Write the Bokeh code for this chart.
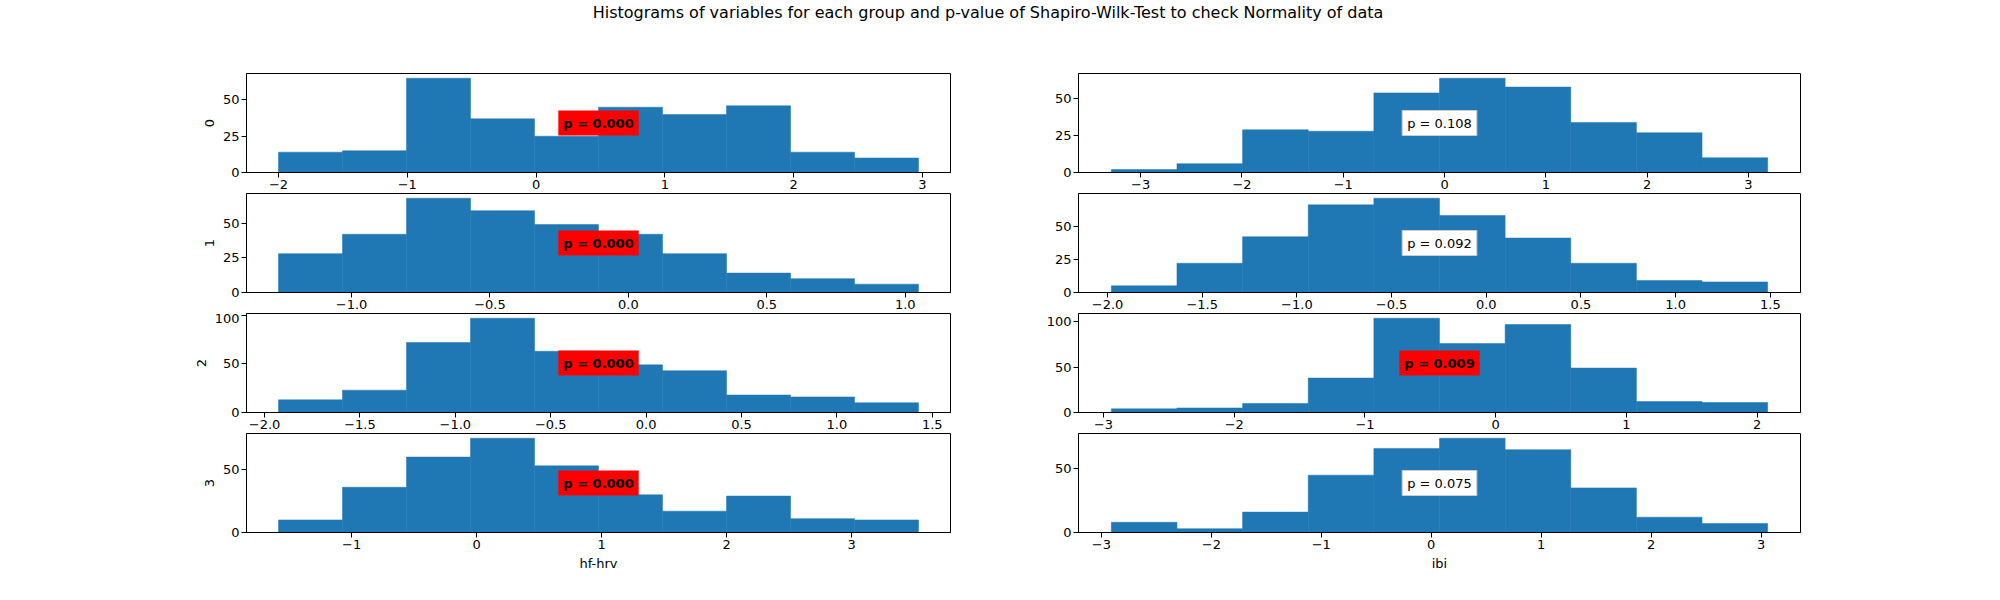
import numpy as np
from bokeh.plotting import figure
from bokeh.models import Div, Label, FixedTicker, Range1d
from bokeh.layouts import column, row
from bokeh.embed import file_html
from bokeh.resources import INLINE

title = "Histograms of variables for each group and p-value of Shapiro-Wilk-Test to check Normality of data"
variables = ["hf-hrv", "ibi"]
groups = ["0", "1", "2", "3"]

# histogram range (min, max) and counts per bin, 10 bins each
hf_range = [(-2.00, 2.97), (-1.264, 1.048), (-1.927, 1.428), (-1.585, 3.535)]
hf_counts = [
    [14, 15, 65, 37, 25, 45, 40, 46, 14, 10],
    [28, 42, 68, 59, 49, 42, 28, 14, 10, 6],
    [13, 23, 72, 97, 63, 49, 43, 18, 16, 10],
    [10, 36, 60, 75, 53, 30, 17, 29, 11, 10],
]
hf_p = [0.000, 0.000, 0.000, 0.000]
ibi_range = [(-3.29, 3.19), (-1.98, 1.486), (-2.94, 2.08), (-2.91, 3.06)]
ibi_counts = [
    [2, 6, 29, 28, 54, 64, 58, 34, 27, 10],
    [5, 22, 42, 66, 71, 58, 41, 22, 9, 8],
    [4, 5, 10, 38, 104, 76, 97, 49, 12, 11],
    [8, 3, 16, 45, 66, 74, 65, 35, 12, 7],
]
ibi_p = [0.108, 0.092, 0.009, 0.075]

hf_xticks = [[-2, -1, 0, 1, 2, 3], [-1.0, -0.5, 0.0, 0.5, 1.0],
             [-2.0, -1.5, -1.0, -0.5, 0.0, 0.5, 1.0, 1.5], [-1, 0, 1, 2, 3]]
ibi_xticks = [[-3, -2, -1, 0, 1, 2, 3], [-2.0, -1.5, -1.0, -0.5, 0.0, 0.5, 1.0, 1.5],
              [-3, -2, -1, 0, 1, 2], [-3, -2, -1, 0, 1, 2, 3]]
hf_yticks = [[0, 25, 50], [0, 25, 50], [0, 50, 100], [0, 50]]
ibi_yticks = [[0, 25, 50], [0, 25, 50], [0, 50, 100], [0, 50]]

BLUE = "#1f77b4"
FONT = "DejaVu Sans"


def fmt(v, decimals):
    s = f"{v:.{decimals}f}" if decimals else f"{int(round(v))}"
    return s.replace("-", "\u2212")


def panel(rng, counts, p, xticks, yticks, i, left, xlabel):
    edges = np.linspace(rng[0], rng[1], len(counts) + 1)
    span = rng[1] - rng[0]
    ymax = max(counts) * 1.05
    last = i == 3
    b_top = 35 if i == 0 else 0
    b_bot = 57 if last else 21
    f = figure(
        width=1012 if left else 964, height=99 + b_top + b_bot,
        min_border_left=246 if left else 66,
        min_border_right=62 if left else 176,
        min_border_top=b_top, min_border_bottom=b_bot,
        x_range=Range1d(rng[0] - 0.05 * span, rng[1] + 0.05 * span),
        y_range=Range1d(0, ymax),
        output_backend="svg", toolbar_location=None,
    )
    f.quad(left=edges[:-1], right=edges[1:], bottom=0, top=counts,
           fill_color=BLUE, line_color=BLUE, line_width=0.5)
    f.xgrid.visible = False
    f.ygrid.visible = False
    f.outline_line_color = "black"
    f.outline_line_alpha = 1
    dec = 0 if not any(isinstance(t, float) for t in xticks) else 1
    f.xaxis.ticker = FixedTicker(ticks=xticks)
    f.xaxis.major_label_overrides = {t: fmt(t, dec) for t in xticks}
    f.yaxis.ticker = FixedTicker(ticks=yticks)
    for ax in (f.xaxis, f.yaxis):
        ax.minor_tick_line_color = None
        ax.major_tick_in = 0
        ax.major_tick_out = 5
        ax.major_label_standoff = 2
        ax.major_label_text_font = FONT
        ax.major_label_text_font_size = "13px"
        ax.major_label_text_color = "black"
        ax.axis_line_color = "black"
        ax.major_tick_line_color = "black"
    if left:
        f.yaxis.axis_label = groups[i]
        f.yaxis.axis_label_text_font = FONT
        f.yaxis.axis_label_text_font_style = "normal"
        f.yaxis.axis_label_text_font_size = "13px"
        f.yaxis.axis_label_text_color = "black"
        f.yaxis.axis_label_standoff = 6
    if last:
        f.xaxis.axis_label = xlabel
        f.xaxis.axis_label_text_font = FONT
        f.xaxis.axis_label_text_font_style = "normal"
        f.xaxis.axis_label_text_font_size = "13px"
        f.xaxis.axis_label_text_color = "black"
        f.xaxis.axis_label_standoff = 4
    sig = p < 0.05
    f.add_layout(Label(
        x=(f.x_range.start + f.x_range.end) / 2, y=ymax / 2,
        text=f"p = {p:.3f}", text_align="center", text_baseline="middle",
        text_font=FONT, text_font_size="13px", text_color="black",
        text_font_style="bold" if sig else "normal",
        background_fill_color="red" if sig else "white",
        border_line_color=None if sig else "#cccccc",
        padding=5,
    ))
    return f


rows = []
for i in range(4):
    fl = panel(hf_range[i], hf_counts[i], hf_p[i], hf_xticks[i], hf_yticks[i], i, True, variables[0])
    fr = panel(ibi_range[i], ibi_counts[i], ibi_p[i], ibi_xticks[i], ibi_yticks[i], i, False, variables[1])
    rows.append(row(fl, fr, spacing=0))

head = Div(text=title, width=1976, height=38,
           styles={"text-align": "center", "font-family": FONT, "font-size": "16px",
                   "line-height": "22px", "padding-top": "2px", "margin": "0",
                   "color": "black"})
p = column(head, *rows, spacing=0)

open("out.html", "w").write(file_html(p, INLINE))
